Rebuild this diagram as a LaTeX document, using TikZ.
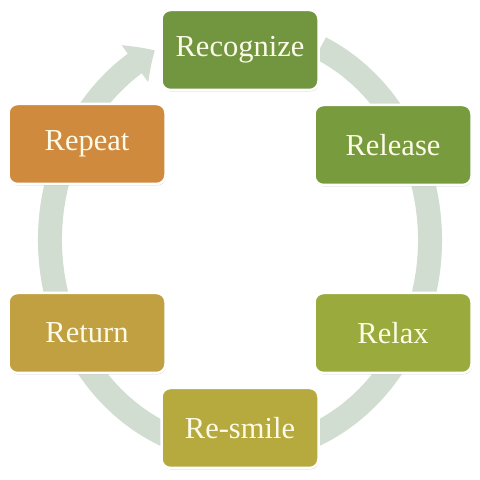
\documentclass[tikz,border=0pt]{standalone}
\usepackage{fontspec}
\setmainfont{Liberation Serif}
\usetikzlibrary{arrows.meta,bending,shadows,calc}
\definecolor{bandcol}{RGB}{210,221,210}
\definecolor{txtcol}{RGB}{253,251,232}
\definecolor{cRec}{RGB}{114,150,64}
\definecolor{cRel}{RGB}{120,155,62}
\definecolor{cRlx}{RGB}{155,170,60}
\definecolor{cRes}{RGB}{182,170,62}
\definecolor{cRet}{RGB}{192,160,64}
\definecolor{cRep}{RGB}{208,138,62}
\begin{document}
\begin{tikzpicture}[x=1pt,y=1pt,
  box/.style={rectangle, rounded corners=9pt, draw=white, line width=2.5pt,
    minimum width=157pt, minimum height=80pt, text=txtcol,
    font=\fontsize{30.5}{34}\selectfont,
    drop shadow={shadow xshift=0.6pt, shadow yshift=-1.5pt, opacity=0.35, fill=black!55}},
  band/.style={draw=bandcol, line width=24pt}]
\useasboundingbox (0,0) rectangle (480,480);
\fill[white] (0,0) rectangle (480,480);
\coordinate (c) at (240,240);
\coordinate (s) at ($(c)+(65:190 and 212)$);
\draw[band, -{Triangle[width=44pt,length=24pt,bend]}]
  (s) arc[start angle=65, end angle=-243.4, x radius=190, y radius=212];
\node[box, fill=cRec] (rec) at (240,430) {Recognize};
\node[box, fill=cRel] (rel) at (393,335) {Release};
\node[box, fill=cRlx] (rlx) at (393,147) {Relax};
\node[box, fill=cRes] (res) at (240,52) {Re-smile};
\node[box, fill=cRet] (ret) at (87,147) {Return};
\node[box, fill=cRep] (rep) at (87,336) {Repeat};
\end{tikzpicture}
\end{document}
